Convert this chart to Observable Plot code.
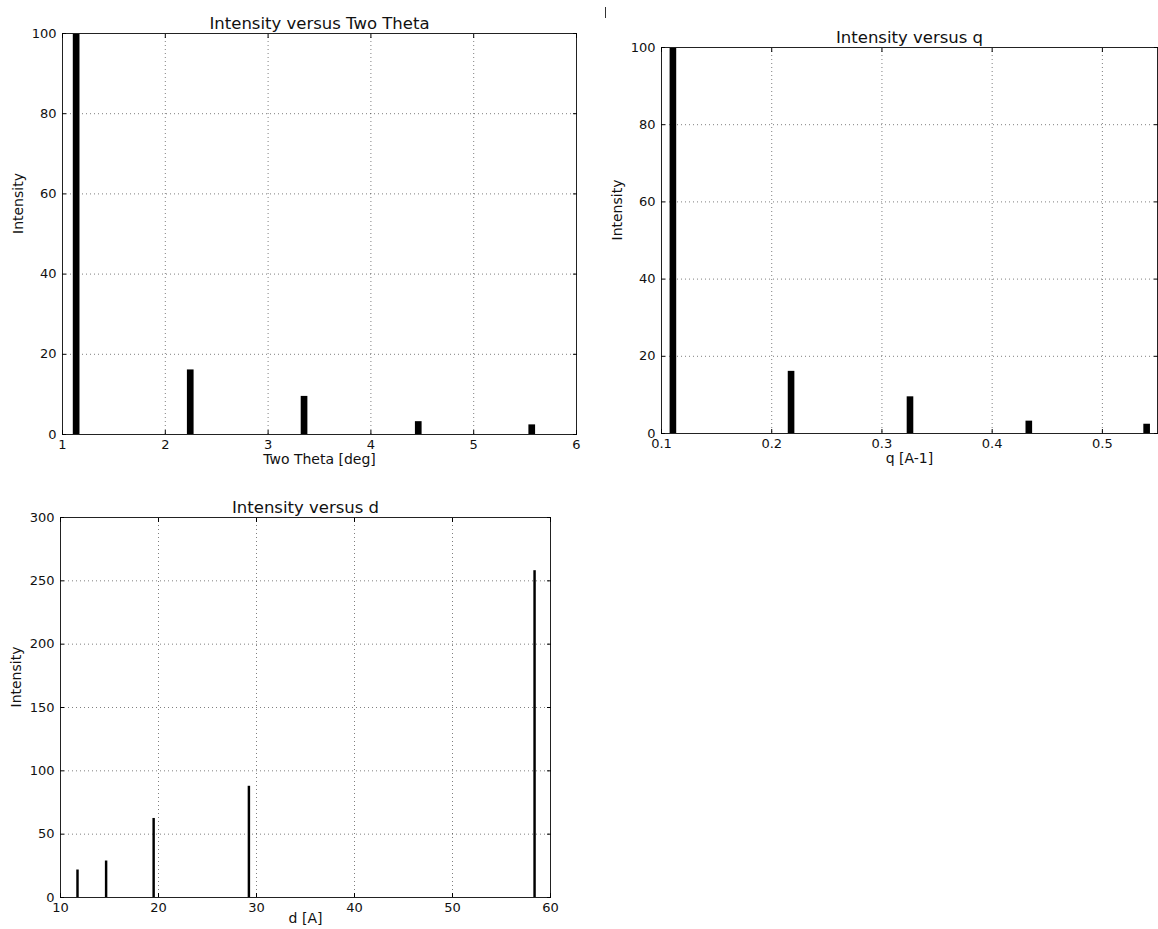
<!DOCTYPE html>
<html><head><meta charset="utf-8">
<script src="https://cdn.jsdelivr.net/npm/d3@7"></script>
<script src="https://cdn.jsdelivr.net/npm/@observablehq/plot@0.6"></script>
<style>
body{margin:0;background:#fff;}
#wrap{position:relative;width:1158px;height:929px;overflow:hidden;background:#fff;}
.panel{position:absolute;}
.stray{position:absolute;left:605px;top:7px;width:1px;height:11px;background:#333;}
</style></head><body><div id="wrap"><div class="stray"></div></div>
<script>
// Data
const twoTheta = [1.105, 2.215, 3.322, 4.433, 5.537];
const qValues = [0.1078, 0.2150, 0.3229, 0.4307, 0.5376];
const dValues = [58.3, 29.15, 19.43, 14.58, 11.66];
const intensity = [100, 16.1, 9.5, 3.2, 2.4];
const intensityD = [258, 87.8, 62.4, 28.8, 21.7];

const titles = ["Intensity versus Two Theta", "Intensity versus q", "Intensity versus d"];
const xLabels = ["Two Theta [deg]", "q [A-1]", "d [A]"];
const yLabel = "Intensity";
const xTicks1 = [1, 2, 3, 4, 5, 6];
const xTicks2 = [0.1, 0.2, 0.3, 0.4, 0.5];
const xTicks3 = [10, 20, 30, 40, 50, 60];
const yTicks12 = [0, 20, 40, 60, 80, 100];
const yTicks3 = [0, 50, 100, 150, 200, 250, 300];

const FONT = "DejaVu Sans, sans-serif";

function panel(cfg) {
  const rows = cfg.xs.map((x, i) => ({x, v: cfg.vs[i]}));
  const tickStyle = {tickSize: -4, stroke: "#000"};
  return Plot.plot({
    width: cfg.width, height: cfg.height,
    marginLeft: cfg.ml, marginRight: cfg.mr, marginTop: cfg.mt, marginBottom: cfg.mb,
    style: {fontFamily: FONT, background: "transparent", color: "#111", overflow: "visible"},
    x: {domain: cfg.xDomain, label: null},
    y: {domain: cfg.yDomain, label: null},
    marks: [
      Plot.gridX(cfg.xTicks, {stroke: "#000", strokeOpacity: 0.5, strokeDasharray: "1,3", strokeWidth: 1}),
      Plot.gridY(cfg.yTicks, {stroke: "#000", strokeOpacity: 0.5, strokeDasharray: "1,3", strokeWidth: 1}),
      Plot.rect(rows, {x1: d => d.x, x2: d => d.x + cfg.barWidth, y1: 0, y2: d => d.v, fill: "#000"}),
      Plot.frame({stroke: "#222", strokeWidth: 1}),
      Plot.axisX(cfg.xTicks, {anchor: "bottom", ...tickStyle, tickPadding: 9, fontSize: 13, label: null, tickFormat: cfg.xFmt}),
      Plot.axisX(cfg.xTicks, {anchor: "top", ...tickStyle, tickFormat: () => "", label: null}),
      Plot.axisY(cfg.yTicks, {anchor: "left", ...tickStyle, tickPadding: 10, fontSize: 13, label: null, tickFormat: d => String(d)}),
      Plot.axisY(cfg.yTicks, {anchor: "right", ...tickStyle, tickFormat: () => "", label: null}),
      Plot.text([cfg.title], {frameAnchor: "top", dy: -5, lineAnchor: "bottom", fontSize: 16.5, fill: "#111"}),
      Plot.text([cfg.xLabel], {frameAnchor: "bottom", dy: cfg.xLabelDy, lineAnchor: "middle", fontSize: 14, fill: "#111"}),
      Plot.text([yLabel], {frameAnchor: "left", dx: -44, rotate: -90, fontSize: 14, fill: "#111"})
    ]
  });
}

const wrap = document.getElementById("wrap");
function place(el, left, top) {
  el.classList.add("panel");
  el.style.left = left + "px";
  el.style.top = top + "px";
  wrap.appendChild(el);
}

place(panel({
  xs: twoTheta, vs: intensity, barWidth: 0.065,
  width: 600, height: 470, ml: 62, mr: 24, mt: 33, mb: 36,
  xDomain: [1, 6], yDomain: [0, 100], xTicks: xTicks1, yTicks: yTicks12,
  xFmt: d => String(d), title: titles[0], xLabel: xLabels[0], xLabelDy: 25
}), 0, 0);

place(panel({
  xs: qValues, vs: intensity, barWidth: 0.006,
  width: 558, height: 470, ml: 61, mr: 1, mt: 47, mb: 37,
  xDomain: [0.1, 0.55], yDomain: [0, 100], xTicks: xTicks2, yTicks: yTicks12,
  xFmt: d => d.toFixed(1), title: titles[1], xLabel: xLabels[1], xLabelDy: 25
}), 600, 0);

place(panel({
  xs: dValues, vs: intensityD, barWidth: 0.25,
  width: 600, height: 449, ml: 60, mr: 50, mt: 37, mb: 32,
  xDomain: [10, 60], yDomain: [0, 300], xTicks: xTicks3, yTicks: yTicks3,
  xFmt: d => String(d), title: titles[2], xLabel: xLabels[2], xLabelDy: 21
}), 0, 480);
</script>
</body></html>
